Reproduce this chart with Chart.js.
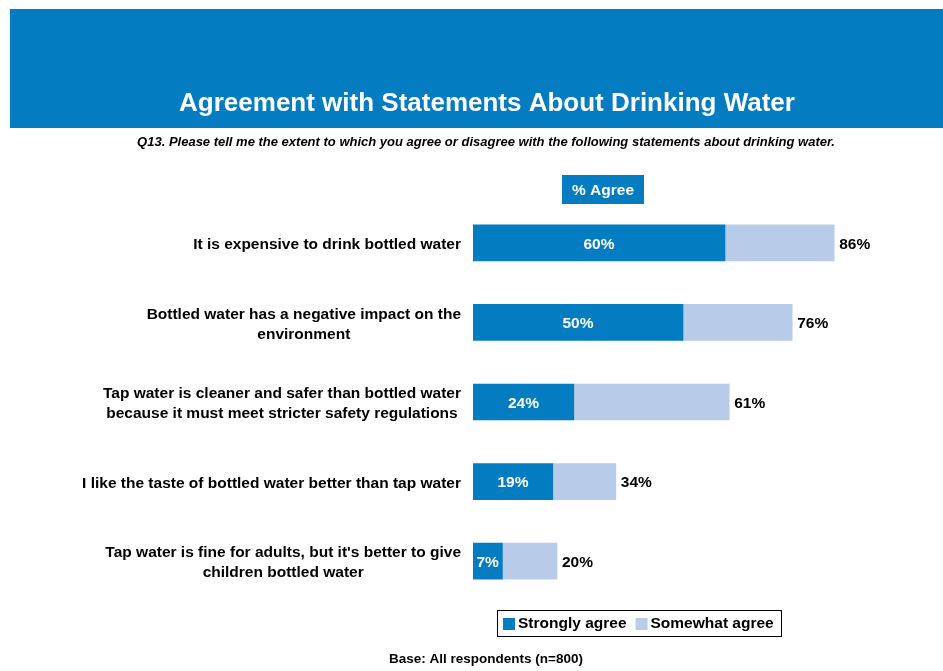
<!DOCTYPE html>
<html>
<head>
<meta charset="utf-8">
<script src="https://cdn.jsdelivr.net/npm/chart.js@4.4.1/dist/chart.umd.min.js"></script>
<style>
  html, body { margin: 0; padding: 0; background: #ffffff; }
  #wrap { position: relative; width: 943px; height: 671px; }
</style>
</head>
<body>
<div id="wrap"><canvas id="chart" width="943" height="671"></canvas></div>
<script>
// Statements (each entry is an array of lines), stacked agree shares, in percent.
const statements = [
  ['It is expensive to drink bottled water'],
  ['Bottled water has a negative impact on the', 'environment'],
  ['Tap water is cleaner and safer than bottled water', 'because it must meet stricter safety regulations'],
  ['I like the taste of bottled water better than tap water'],
  ['Tap water is fine for adults, but it\'s better to give', 'children bottled water'],
];
const stronglyAgree = [60, 50, 24, 19, 7];
const somewhatAgree = [26, 26, 37, 15, 13];

const seriesNames = ['Strongly agree', 'Somewhat agree'];

const titleText = 'Agreement with Statements About Drinking Water';
const questionText = 'Q13. Please tell me the extent to which you agree or disagree with the following statements about drinking water.';
const badgeText = '% Agree';
const baseText = 'Base: All respondents (n=800)';

const colors = {
  strong: '#047cc2',
  somewhat: '#b8cce9',
  band: '#047cc2',
  ink: '#000000',
};
const FONT = '"Liberation Sans", Arial, Helvetica, sans-serif';

// Header band, question line, "% Agree" badge, legend box and base note.
const frame = {
  id: 'frame',
  beforeDraw(chart) {
    const ctx = chart.ctx;
    ctx.save();
    ctx.fillStyle = colors.band;
    ctx.fillRect(10, 9, chart.width - 10, 119);

    ctx.fillStyle = '#ffffff';
    ctx.textAlign = 'center';
    ctx.textBaseline = 'middle';
    ctx.font = 'bold 26px ' + FONT;
    ctx.fillText(titleText, 487, 103.5);

    ctx.fillStyle = colors.ink;
    ctx.font = 'italic bold 13px ' + FONT;
    ctx.fillText(questionText, 486, 142.5);

    ctx.fillStyle = colors.band;
    ctx.fillRect(562, 175, 82, 29);
    ctx.fillStyle = '#ffffff';
    ctx.font = 'bold 15.5px ' + FONT;
    ctx.fillText(badgeText, 603, 191);

    ctx.fillStyle = colors.ink;
    ctx.font = 'bold 13.5px ' + FONT;
    ctx.fillText(baseText, 486, 659.5);
    ctx.restore();
  },
  afterDraw(chart) {
    const ctx = chart.ctx;
    const yScale = chart.scales.y;
    ctx.save();

    // category labels: block right-aligned to the axis, lines centred inside it
    ctx.fillStyle = colors.ink;
    ctx.font = 'bold 15.5px ' + FONT;
    ctx.textBaseline = 'middle';
    ctx.textAlign = 'center';
    const right = chart.chartArea.left - 12;
    const lineH = 20;
    statements.forEach((lines, i) => {
      const y = yScale.getPixelForValue(i) + 2;
      const widest = Math.max(...lines.map(l => ctx.measureText(l).width));
      const cx = right - widest / 2;
      const y0 = y - (lines.length - 1) * lineH / 2;
      lines.forEach((l, k) => ctx.fillText(l, cx, y0 + k * lineH));
    });

    // legend
    const lx = 497, ly = 610, lw = 285, lh = 27;
    ctx.fillStyle = '#ffffff';
    ctx.fillRect(lx, ly, lw, lh);
    ctx.strokeStyle = '#000000';
    ctx.lineWidth = 1;
    ctx.strokeRect(lx + 0.5, ly + 0.5, lw - 1, lh - 1);
    ctx.font = 'bold 15.5px ' + FONT;
    ctx.textAlign = 'left';
    let x = lx + 6;
    chart.data.datasets.forEach(ds => {
      ctx.fillStyle = ds.backgroundColor;
      ctx.fillRect(x, ly + 8, 12, 12);
      ctx.fillStyle = colors.ink;
      ctx.fillText(ds.label, x + 15, ly + 14);
      x += 15 + ctx.measureText(ds.label).width + 9;
    });
    ctx.restore();
  },
  afterDatasetsDraw(chart) {
    const ctx = chart.ctx;
    const xScale = chart.scales.x;
    const yScale = chart.scales.y;
    ctx.save();
    ctx.font = 'bold 15.5px ' + FONT;
    ctx.textBaseline = 'middle';
    stronglyAgree.forEach((v, i) => {
      const y = yScale.getPixelForValue(i) + 1.5;
      // value inside the strongly-agree segment
      const bar = chart.getDatasetMeta(0).data[i];
      ctx.fillStyle = '#ffffff';
      ctx.textAlign = 'center';
      ctx.fillText(v + '%', (bar.base + bar.x) / 2, y);
      // total at the end of the stack
      const total = v + somewhatAgree[i];
      ctx.fillStyle = colors.ink;
      ctx.textAlign = 'left';
      ctx.fillText(total + '%', xScale.getPixelForValue(total) + 5, y);
    });
    ctx.restore();
  },
};

new Chart(document.getElementById('chart').getContext('2d'), {
  type: 'bar',
  data: {
    labels: statements,
    datasets: [
      { label: seriesNames[0], data: stronglyAgree, backgroundColor: colors.strong },
      { label: seriesNames[1], data: somewhatAgree, backgroundColor: colors.somewhat },
    ],
  },
  options: {
    indexAxis: 'y',
    responsive: false,
    animation: false,
    layout: { padding: { left: 473, right: 50, top: 203, bottom: 70 } },
    plugins: {
      legend: { display: false },
      tooltip: { enabled: false },
    },
    datasets: { bar: { barThickness: 36, borderWidth: 0 } },
    scales: {
      x: { stacked: true, min: 0, max: 100, display: false },
      y: { stacked: true, display: false },
    },
  },
  plugins: [frame],
});
</script>
</body>
</html>
